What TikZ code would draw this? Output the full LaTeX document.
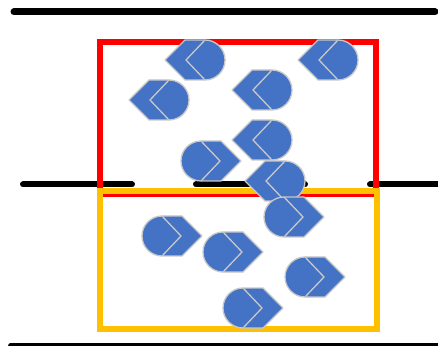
\documentclass[tikz,border=0pt]{standalone}
\definecolor{shapeblue}{HTML}{4472C4}
\definecolor{shapeedge}{HTML}{C8C8C8}
\definecolor{boxred}{HTML}{FF0000}
\definecolor{boxyellow}{HTML}{FFC000}
\tikzset{
  blackrule/.style={line width=7pt, line cap=round, black},
  redbox/.style={line width=6pt, draw=boxred},
  yellowbox/.style={line width=6pt, draw=boxyellow},
  dispfill/.style={fill=shapeblue, draw=shapeedge, line width=1.3pt, line join=round},
  displine/.style={draw=shapeedge, line width=1.3pt},
  leftdisp/.pic={
    \path[dispfill] (-30,0) -- (-10,20) -- (10,20)
      arc[start angle=90, end angle=-90, radius=20pt] -- (-10,-20) -- cycle;
    \path[displine] (10,20) -- (-9,0) -- (10,-20);
  },
  rightdisp/.pic={
    \path[dispfill] (30,0) -- (10,20) -- (-10,20)
      arc[start angle=90, end angle=270, radius=20pt] -- (10,-20) -- cycle;
    \path[displine] (-10,20) -- (9,0) -- (-10,-20);
  }
}
\begin{document}
\begin{tikzpicture}[x=1pt,y=1pt]
\useasboundingbox (0,0) rectangle (438,345);
% black rules
\coordinate (t1) at (14,333);
\coordinate (t2) at (435,333);
\draw[blackrule] (t1) -- (t2);
\coordinate (m1a) at (23,160.5);
\coordinate (m1b) at (132,160.5);
\coordinate (m2a) at (196,160.5);
\coordinate (m2b) at (305,160.5);
\coordinate (m3a) at (370,160.5);
\coordinate (m3b) at (450,160.5);
\draw[blackrule, line width=6pt] (m1a) -- (m1b);
\draw[blackrule, line width=6pt] (m2a) -- (m2b);
\draw[blackrule, line width=6pt] (m3a) -- (m3b);
\coordinate (b1) at (11,-0.5);
\coordinate (b2) at (450,-0.5);
\draw[blackrule, line width=6pt] (b1) -- (b2);
% boxes
\coordinate (r1) at (100,151);
\coordinate (r2) at (376,303);
\draw[redbox] (r1) rectangle (r2);
\coordinate (y1) at (100,16.5);
\coordinate (y2) at (376.5,153.5);
\draw[yellowbox] (y1) rectangle (y2);
% display shapes
\pic (s1) at (195,285) {leftdisp};
\pic (s2) at (159,245) {leftdisp};
\pic (s3) at (328,285) {leftdisp};
\pic (s4) at (262,255) {leftdisp};
\pic (s5) at (262,205) {leftdisp};
\pic (s6) at (211,184) {rightdisp};
\pic (s7) at (275,164) {leftdisp};
\pic (s8) at (294,128) {rightdisp};
\pic (s9) at (172,109) {rightdisp};
\pic (s10) at (233,93) {rightdisp};
\pic (s11) at (315,68) {rightdisp};
\pic (s12) at (253,37) {rightdisp};
\end{tikzpicture}
\end{document}
